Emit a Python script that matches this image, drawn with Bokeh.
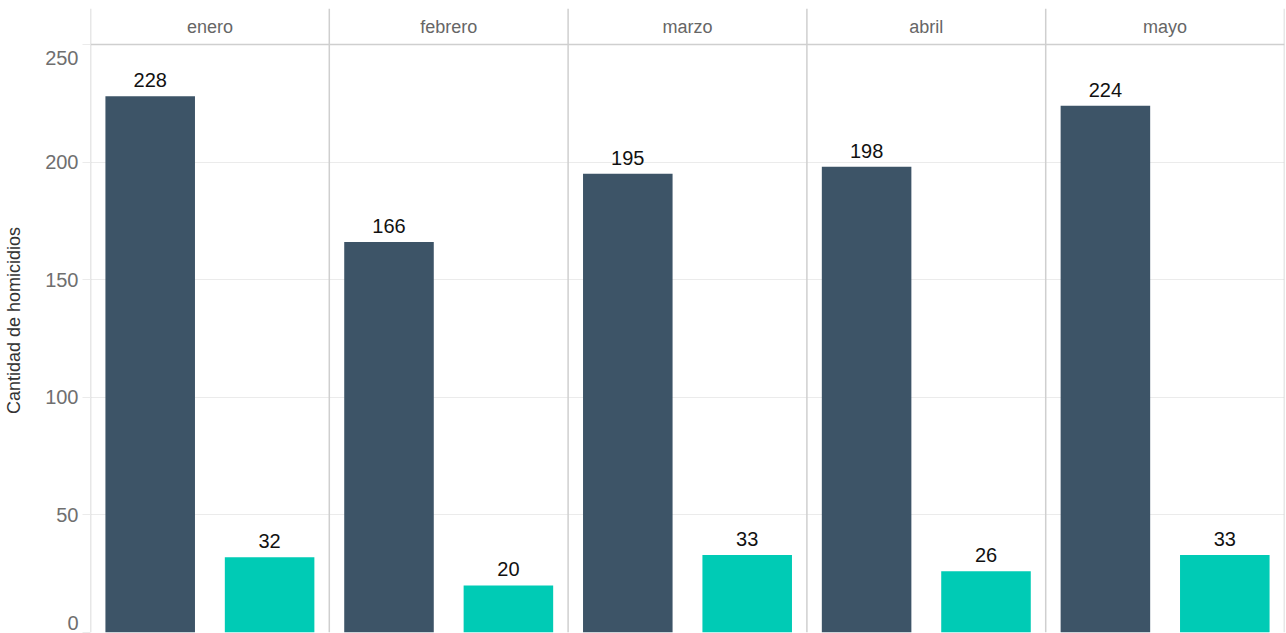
from bokeh.plotting import figure
from bokeh.models import ColumnDataSource, Range1d, FixedTicker
from bokeh.core.properties import value
from bokeh.embed import file_html
from bokeh.resources import INLINE

# ---- data ----
months = ["enero", "febrero", "marzo", "abril", "mayo"]
serie_a = [228, 166, 195, 198, 224]
serie_b = [32, 20, 33, 26, 33]
y_ticks = [0, 50, 100, 150, 200, 250]
y_label = "Cantidad de homicidios"

# ---- styling ----
FONT = "Liberation Sans"
DARK = "#3d5467"
TEAL = "#00cbb5"
SEP = "#cfcfcf"
GRID = "#ebebeb"
TICK_COLOR = "#6f6f6f"

W, H = 1286, 633
BL, BR, BT, BB = 90, 2, 8, 1
n = len(months)
YMAX_DATA = y_ticks[-1]
FRAME_H = H - BT - BB
HEADER_PX = 36
ymax = YMAX_DATA * FRAME_H / (FRAME_H - HEADER_PX)

xa = [2 * i + 0.5 for i in range(n)]
xb = [2 * i + 1.5 for i in range(n)]
xc = [2 * i + 1.0 for i in range(n)]

src_a = ColumnDataSource(dict(x=xa, top=serie_a, lab=[str(v) for v in serie_a]))
src_b = ColumnDataSource(dict(x=xb, top=serie_b, lab=[str(v) for v in serie_b]))
src_m = ColumnDataSource(dict(x=xc, y=[(YMAX_DATA + ymax) / 2] * n, lab=months))

p = figure(width=W, height=H, output_backend="svg", toolbar_location=None,
           x_range=Range1d(0, 2 * n), y_range=Range1d(0, ymax),
           min_border_left=BL, min_border_right=BR, min_border_top=BT, min_border_bottom=BB)
p.outline_line_color = None
p.background_fill_color = "white"
p.border_fill_color = "white"

p.xaxis.visible = False
p.xgrid.visible = False
p.ygrid.ticker = FixedTicker(ticks=y_ticks)
p.ygrid.grid_line_color = GRID
p.ygrid.grid_line_width = 1.2

ax = p.yaxis[0]
ax.ticker = FixedTicker(ticks=y_ticks)
ax.axis_line_color = None
ax.major_tick_line_color = GRID
ax.major_tick_out = 8
ax.major_tick_in = 0
ax.minor_tick_line_color = None
ax.major_label_standoff = 4
ax.major_label_text_font = FONT
ax.major_label_text_font_size = "20px"
ax.major_label_text_color = TICK_COLOR
# top label sits inside the panel, as in the reference
ax.major_label_overrides = {y_ticks[-1]: f"\u00a0\n{y_ticks[-1]}"}
ax.axis_label = y_label
ax.axis_label_text_font = FONT
ax.axis_label_text_font_size = "18px"
ax.axis_label_text_font_style = "normal"
ax.axis_label_text_color = "#333333"
ax.axis_label_standoff = 18

# bars
p.vbar(x="x", top="top", bottom=0, width=0.75, source=src_a, fill_color=DARK, line_color=None)
p.vbar(x="x", top="top", bottom=0, width=0.75, source=src_b, fill_color=TEAL, line_color=None)

# value labels
for s in (src_a, src_b):
    p.text(x="x", y="top", text="lab", source=s, text_align="center", text_baseline="bottom",
           y_offset=-9, text_font=value(FONT), text_font_size="20px", text_color="#111111")

# facet separators and header
seps = [2 * i for i in range(n + 1)]
p.segment(x0=seps, y0=[0] * len(seps), x1=seps, y1=[ymax] * len(seps),
          line_color=SEP, line_width=1.5)
p.segment(x0=[0], y0=[YMAX_DATA], x1=[2 * n], y1=[YMAX_DATA], line_color=SEP, line_width=1.5)

p.text(x="x", y="y", text="lab", source=src_m, text_align="center", text_baseline="middle",
       text_font=value(FONT), text_font_size="18px", text_color="#666666")

open("out.html", "w").write(file_html(p, INLINE))
